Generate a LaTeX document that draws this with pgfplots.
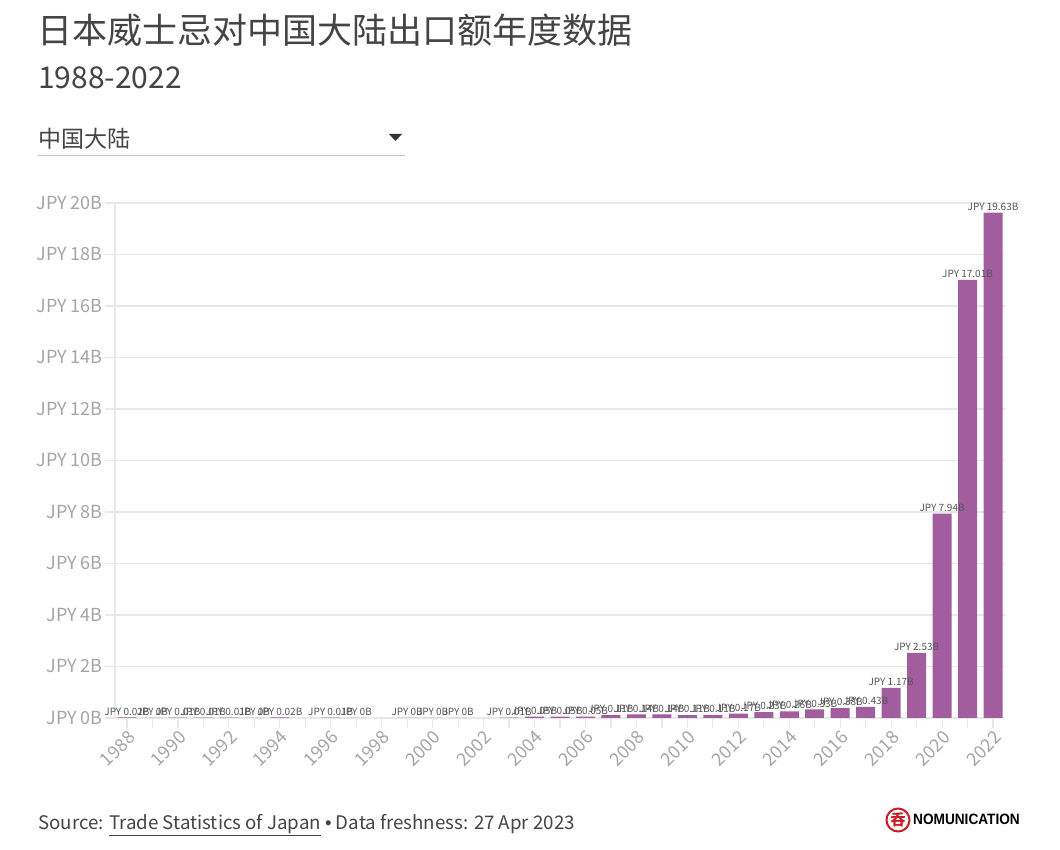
\documentclass[border=0pt]{standalone}
\usepackage{fontspec}
\usepackage{pgfplots}
\usepackage{pgfplotstable}
\pgfplotsset{compat=1.18}
\setmainfont{Noto Sans CJK SC}
\newfontfamily\jpfont{Noto Sans CJK JP}
\newfontfamily\logofont{Liberation Sans}
\definecolor{barc}{RGB}{161,93,158}
\definecolor{titlec}{RGB}{68,68,68}
\definecolor{tickc}{RGB}{165,165,165}
\definecolor{gridc}{RGB}{232,232,232}
\definecolor{labc}{RGB}{85,85,85}
\definecolor{logored}{RGB}{200,30,40}

\pgfplotstableread[col sep=comma]{
year,value,label
1988,0.02,JPY 0.02B
1989,0.00,JPY 0B
1990,0.01,JPY 0.01B
1991,0.01,JPY 0.01B
1992,0.01,JPY 0.01B
1993,0.00,JPY 0B
1994,0.02,JPY 0.02B
1996,0.01,JPY 0.01B
1997,0.00,JPY 0B
1999,0.00,JPY 0B
2000,0.00,JPY 0B
2001,0.00,JPY 0B
2003,0.01,JPY 0.01B
2004,0.05,JPY 0.05B
2005,0.05,JPY 0.05B
2006,0.05,JPY 0.05B
2007,0.11,JPY 0.11B
2008,0.14,JPY 0.14B
2009,0.14,JPY 0.14B
2010,0.11,JPY 0.11B
2011,0.11,JPY 0.11B
2012,0.17,JPY 0.17B
2013,0.23,JPY 0.23B
2014,0.26,JPY 0.26B
2015,0.33,JPY 0.33B
2016,0.38,JPY 0.38B
2017,0.43,JPY 0.43B
2018,1.17,JPY 1.17B
2019,2.53,JPY 2.53B
2020,7.94,JPY 7.94B
2021,17.01,JPY 17.01B
2022,19.63,JPY 19.63B
}\datatable

\begin{document}
\begin{tikzpicture}
\begin{scope}[x=1bp,y=1bp]
\path[use as bounding box] (0,0) rectangle (1060,850);
\node[anchor=base west, text=titlec, font=\fontsize{35bp}{40bp}\selectfont, inner sep=0] at (37,806) {日本威士忌对中国大陆出口额年度数据};
\node[anchor=base west, text=titlec, font=\fontsize{30bp}{36bp}\selectfont, inner sep=0] at (38,761) {1988-2022};
\node[anchor=base west, text=titlec, font=\fontsize{23bp}{26bp}\selectfont, inner sep=0] at (38,702) {中国大陆};
\fill[black!80] (389,716) -- (402,716) -- (395.5,709) -- cycle;
\draw[gray!45, line width=1bp] (38,694) -- (405,694);
\node[anchor=base west, text=titlec, font=\fontsize{18.7bp}{22bp}\selectfont, inner sep=0] at (38,20) {Source: \underline{Trade Statistics of Japan} {\logofont •} Data freshness: 27 Apr 2023};
\draw[logored, line width=2bp] (898,30) circle (11.5);
\node[text=logored, font=\jpfont\bfseries\fontsize{15bp}{15bp}\selectfont, inner sep=0] at (898,30) {呑};
\node[anchor=base west, inner sep=0, xscale=0.91, font=\logofont\bfseries\fontsize{15bp}{15bp}\selectfont] at (913,25) {NOMUNICATION};
\end{scope}

\begin{axis}[
  at={(115bp,132bp)}, anchor=south west, scale only axis,
  width=890bp, height=515bp,
  xmin=1987.53, xmax=2022.47, ymin=0, ymax=20,
  ybar, bar width=19bp,
  axis lines=left,
  axis line style={-, draw=gridc, line width=1.2bp},
  ymajorgrids, grid style={draw=gridc, line width=1.2bp},
  tick align=outside,
  major tick length=10bp, minor tick length=10bp,
  tick style={draw=gridc, line width=1.2bp},
  xtick={1988,1990,...,2022},
  minor xtick={1989,1991,...,2021},
  xticklabels={1988,1990,1992,1994,1996,1998,2000,2002,2004,2006,2008,2010,2012,2014,2016,2018,2020,2022},
  ytick={0,2,...,20},
  yticklabels={JPY 0B,JPY 2B,JPY 4B,JPY 6B,JPY 8B,JPY 10B,JPY 12B,JPY 14B,JPY 16B,JPY 18B,JPY 20B},
  ticklabel style={font=\fontsize{18bp}{20bp}\selectfont, text=tickc},
  xticklabel style={rotate=45, anchor=north east, inner sep=1bp},
  yticklabel style={inner sep=2bp},
  nodes near coords,
  point meta=explicit symbolic,
  every node near coord/.append style={font=\fontsize{10bp}{12bp}\selectfont, text=labc, anchor=south, inner sep=2bp},
  clip=false,
]
\addplot[fill=barc, draw=none] table[x=year, y=value, meta=label] {\datatable};
\end{axis}
\end{tikzpicture}
\end{document}
